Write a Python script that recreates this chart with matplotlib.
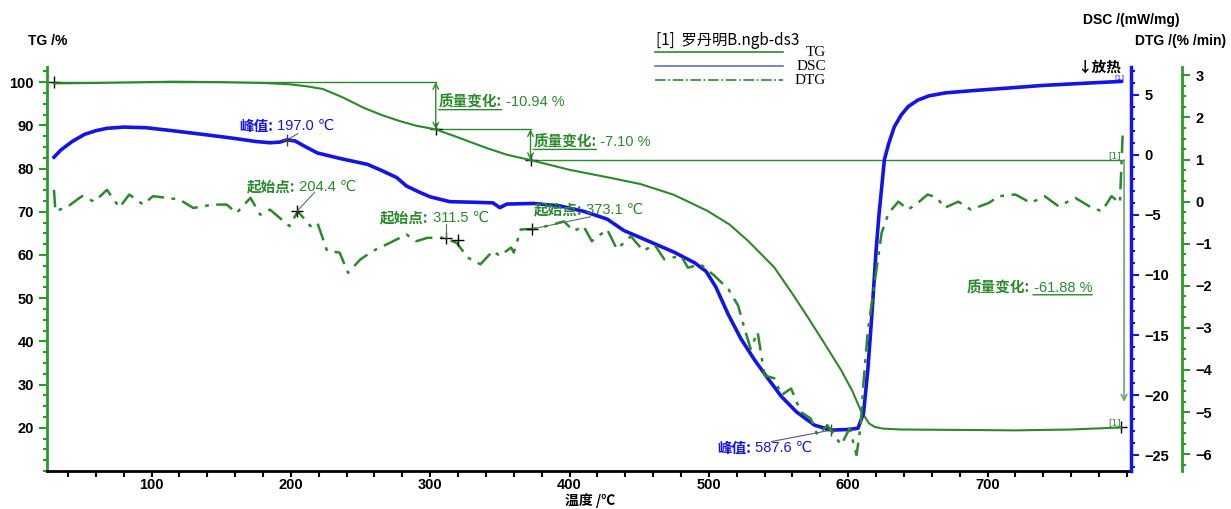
import matplotlib
matplotlib.use('Agg')
import matplotlib.pyplot as plt
from matplotlib.ticker import MultipleLocator

# ---- data ----
tg_temp = [30, 60, 115, 150, 180, 199, 212, 223, 237, 252, 265, 278, 290, 304, 320, 340,
           355, 372, 400, 430, 451, 475, 499, 515, 528, 547, 560, 571, 583, 595, 603,
           609, 615, 619, 625, 638, 680, 720, 760, 796]
tg_val = [99.7, 99.8, 100.1, 100.0, 99.8, 99.5, 99.0, 98.4, 96.5, 94.1, 92.4, 91.0, 89.9,
          89.06, 87.2, 84.8, 83.2, 81.96, 79.7, 77.8, 76.4, 73.9, 70.2, 67.0, 63.3, 57.1,
          51.0, 45.6, 39.5, 33.3, 28.5, 24.0, 21.0, 20.2, 19.8, 19.6, 19.5, 19.4, 19.6, 20.08]

dsc_temp = [30, 35, 43, 52, 60, 68, 80, 96, 115, 140, 160, 175, 185, 192, 197, 203, 210,
            219, 235, 255, 265, 276, 283, 292, 300, 314, 331, 345, 350, 355, 374, 393, 410,
            427, 439, 457, 475, 490, 498, 505, 514, 523, 533, 543, 552, 563, 576, 588, 600,
            607, 611, 614, 617, 620, 622, 626, 629, 633, 638, 643, 650, 658, 670, 691, 715,
            739, 770, 796]
dsc_val = [-0.2, 0.4, 1.1, 1.7, 2.0, 2.2, 2.3, 2.25, 2.0, 1.65, 1.35, 1.1, 1.0, 1.05, 1.23,
           1.15, 0.7, 0.15, -0.3, -0.8, -1.3, -1.9, -2.6, -3.1, -3.5, -3.9, -3.95, -4.0, -4.4,
           -4.1, -4.05, -4.25, -4.7, -5.35, -6.3, -7.2, -8.1, -9.0, -9.7, -11.0, -13.3, -15.3,
           -17.1, -18.7, -20.1, -21.4, -22.5, -22.9, -22.85, -22.75, -21.5, -18.0, -13.3, -8.0,
           -5.1, -0.4, 0.9, 2.3, 3.3, 4.0, 4.55, 4.9, 5.15, 5.35, 5.55, 5.76, 5.95, 6.1]

dtg_temp = [30, 31, 33, 39, 50, 59, 68, 77, 84, 94, 101, 111, 120, 130, 144, 154, 161, 171,
            178, 185, 199, 205, 214, 219, 226, 235, 241, 250, 259, 271, 283, 290, 298, 310,
            319, 327, 336, 345, 350, 358, 360, 365, 374, 379, 396, 403, 410, 416, 427, 434,
            444, 453, 461, 468, 480, 485, 494, 504, 514, 521, 525, 530, 535, 540, 547, 552,
            559, 566, 573, 578, 585, 590, 595, 601, 606, 609, 611, 614, 619, 624, 629, 636,
            643, 650, 657, 664, 669, 679, 688, 701, 708, 720, 731, 741, 751, 763, 773, 782,
            789, 795, 797]
dtg_val = [0.28, -0.23, -0.2, -0.14, 0.13, 0.0, 0.28, -0.14, 0.17, -0.07, 0.13, 0.09, 0.05,
           -0.15, -0.07, -0.07, -0.27, 0.09, -0.31, -0.19, -0.58, -0.23, -0.58, -0.5, -1.17,
           -1.21, -1.69, -1.37, -1.17, -0.98, -0.78, -0.94, -0.86, -0.86, -0.98, -1.33, -1.49,
           -1.17, -1.29, -1.09, -1.21, -0.66, -0.65, -0.62, -0.47, -0.7, -0.58, -0.94, -0.66,
           -1.13, -0.82, -1.17, -1.02, -1.37, -1.29, -1.57, -1.49, -1.76, -2.08, -2.47, -2.95,
           -3.5, -3.1, -4.13, -4.2, -4.6, -4.44, -5.0, -5.15, -5.55, -5.31, -5.55, -5.78, -5.39,
           -6.02, -5.31, -4.29, -3.1, -1.92, -0.74, -0.27, 0.0, -0.19, -0.03, 0.17, 0.09,
           -0.15, 0.0, -0.19, -0.03, 0.13, 0.17, -0.03, 0.13, -0.11, 0.09, -0.11, -0.23, 0.13,
           -0.03, 1.6]

# (temperature, value) of the marked points
tg_steps = [(30, 100.0), (304, 89.06), (372, 81.96), (796, 20.08)]
tg_changes = ['-10.94 %', '-7.10 %', '-61.88 %']
dsc_peaks = [(197.0, 1.23), (587.6, -22.9)]
dtg_onsets = [(204.4, -0.23), (311.5, -0.86), (373.1, -0.65)]

GREEN = '#2a8a2a'
BLUE = '#1414e6'
CJK = ['Noto Sans CJK SC', 'DejaVu Sans']
NUM = ['Liberation Sans', 'DejaVu Sans']


def label(a, x, y, head, value, color, underline=False, uline_value=False):
    # bold Chinese head followed by the number, like the instrument software draws it
    t1 = a.text(x, y, head, color=color, fontsize=10.5, fontweight='bold', family=CJK,
                va='center', ha='left')
    t2 = a.annotate(' ' + value, xy=(1, 0.5), xycoords=t1, va='center', ha='left',
                    color=color, fontsize=10.5, family=NUM)
    if underline:
        a.annotate('', xy=(1, 0.02), xycoords=t1, xytext=(0, 0.02), textcoords=t1,
                   arrowprops=dict(arrowstyle='-', color=color, lw=1, shrinkA=0, shrinkB=0))
    if uline_value:
        a.annotate('', xy=(1.0, 0.0), xycoords=t2, xytext=(0.05, 0.0), textcoords=t2,
                   arrowprops=dict(arrowstyle='-', color=color, lw=1, shrinkA=0, shrinkB=0))
    return t1, t2


fig = plt.figure(figsize=(12.31, 5.09), dpi=100)
ax = fig.add_axes([0.0382, 0.0747, 0.8806, 0.7937])
ax2 = ax.twinx()
ax3 = ax.twinx()
ax3.spines['right'].set_position(('outward', 36.7))

# TG axis
ax.set_xlim(25, 803)
ax.set_ylim(10, 103.5)
ax.set_yticks(range(20, 101, 10))
ax.yaxis.set_minor_locator(MultipleLocator(2.5))
ax.set_xticks(range(100, 701, 100))
ax.xaxis.set_minor_locator(MultipleLocator(20))
for s in ['top', 'right']:
    ax.spines[s].set_visible(False)
ax.spines['left'].set_color('#2a9a2a')
ax.spines['left'].set_linewidth(2)
ax.spines['bottom'].set_linewidth(2)
ax.tick_params(axis='y', which='both', colors='#2a9a2a', labelcolor='black', width=1.5)
ax.tick_params(axis='y', which='major', length=6)
ax.tick_params(axis='y', which='minor', length=3)
ax.tick_params(axis='x', which='both', width=1.5, length=4, pad=1)

# DSC axis
ax2.set_ylim(-26.3, 7.3)
ax2.set_yticks(range(-25, 6, 5))
ax2.yaxis.set_minor_locator(MultipleLocator(1))
for s in ['top', 'left', 'bottom']:
    ax2.spines[s].set_visible(False)
ax2.spines['right'].set_color(BLUE)
ax2.spines['right'].set_linewidth(2.5)
ax2.tick_params(axis='y', which='both', colors=BLUE, labelcolor='black', width=1.5)
ax2.tick_params(which='major', length=6)
ax2.tick_params(which='minor', length=3)

# DTG axis
ax3.set_ylim(-6.4, 3.2)
ax3.set_yticks(range(-6, 4))
ax3.yaxis.set_minor_locator(MultipleLocator(0.25))
for s in ['top', 'left', 'bottom']:
    ax3.spines[s].set_visible(False)
ax3.spines['right'].set_color('#2a9a2a')
ax3.spines['right'].set_linewidth(2)
ax3.tick_params(axis='y', which='both', colors='#2a9a2a', labelcolor='black', width=1.5)
ax3.tick_params(which='major', length=6)
ax3.tick_params(which='minor', length=3)

for a in (ax, ax2, ax3):
    for lab in a.get_xticklabels() + a.get_yticklabels():
        lab.set_fontfamily('Liberation Sans')
        lab.set_fontweight('bold')
        lab.set_fontsize(10.5)

# curves
ax.plot(tg_temp, tg_val, color=GREEN, lw=1.5, zorder=3)
ax2.plot(dsc_temp, dsc_val, color=BLUE, lw=2.6, zorder=3)
ax3.plot(dtg_temp, dtg_val, color=GREEN, lw=1.8, dashes=(7, 3, 1.5, 3))

# TG step annotations
(t0, v0), (t1, v1), (t2, v2), (t3, v3) = tg_steps
ax.plot([t0, t1], [v0, v0], color=GREEN, lw=1)
ax.plot([t1, t2], [v1, v1], color=GREEN, lw=1)
ax.plot([t2, 798], [v2, v2], color=GREEN, lw=1)
arrow = dict(arrowstyle='<->', color=GREEN, lw=1, shrinkA=0, shrinkB=0)
ax.annotate('', xy=(t1, v1), xytext=(t1, v0), arrowprops=arrow)
ax.annotate('', xy=(t2, v2), xytext=(t2, v1), arrowprops=arrow)
ax.annotate('', xy=(798, 26), xytext=(798, v2),
            arrowprops=dict(arrowstyle='->', color='#6aa86a', lw=1.2, shrinkA=0, shrinkB=0))
ax.plot([t[0] for t in tg_steps], [t[1] for t in tg_steps], '+', color='black', ms=8, mew=1)

label(ax, 306, 95.4, '质量变化:', tg_changes[0], GREEN, underline=True)
label(ax, 374, 86.2, '质量变化:', tg_changes[1], GREEN, underline=True)
label(ax, 685, 52.4, '质量变化:', tg_changes[2], GREEN, uline_value=True)
ax.text(796, 83.1, '[1]', color=GREEN, fontsize=6.5, ha='right', va='center')
ax.text(796, 21.2, '[1]', color=GREEN, fontsize=6.5, ha='right', va='center')

# DSC peaks
(p1t, p1v), (p2t, p2v) = dsc_peaks
ax2.plot([p1t, p2t], [p1v, p2v], '+', color='#444444', ms=8, mew=1, zorder=4)
ax2.plot([p1t, 205], [p1v, 1.75], color='#555588', lw=0.8)
label(ax2, 163, 2.4, '峰值:', f'{p1t:.1f} ℃', BLUE)
ax2.plot([545, p2t], [-23.85, p2v], color='#555588', lw=0.8)
label(ax2, 506, -24.4, '峰值:', f'{p2t:.1f} ℃', BLUE)
ax2.text(796, 7.3, '↓放热', color='black', fontsize=10.5, fontweight='bold',
         family=CJK, ha='right', va='center')
ax2.text(798, 6.45, '[1]', color=BLUE, fontsize=5, ha='right', va='center')

# DTG onsets
(o1t, o1v), (o2t, o2v), (o3t, o3v) = dtg_onsets
ax3.plot([o1t, o2t, 320, o3t], [o1v, o2v, -0.9, o3v], '+', color='black', ms=8, mew=1)
ax3.plot([o1t, 217], [o1v, 0.22], color='#557755', lw=0.8)
label(ax3, 168, 0.35, '起始点:', f'{o1t:.1f} ℃', GREEN)
ax3.plot([o2t, o2t], [o2v, -0.52], color='#557755', lw=0.8)
label(ax3, 264, -0.38, '起始点:', f'{o2t:.1f} ℃', GREEN)
ax3.plot([o3t, 415], [o3v, -0.36], color='#557755', lw=0.8)
label(ax3, 374, -0.19, '起始点:', f'{o3t:.1f} ℃', GREEN)

# axis titles
lab = dict(fontsize=10, fontweight='bold', family=['Liberation Sans'])
fig.text(0.023, 0.919, 'TG /%', ha='left', va='center', **lab)
fig.text(0.9586, 0.961, 'DSC /(mW/mg)', ha='right', va='center', **lab)
fig.text(0.996, 0.919, 'DTG /(% /min)', ha='right', va='center', **lab)
fig.text(0.479, 0.017, '温度 /℃', ha='center', va='center', fontsize=10,
         fontweight='bold', family=CJK)

# legend drawn at the top
fig.text(0.533, 0.921, '[1]  罗丹明B.ngb-ds3', ha='left', va='center', fontsize=11,
         family=['Noto Sans CJK SC', 'DejaVu Sans'])
leg_items = [('TG', GREEN, '-'), ('DSC', '#6a6ad0', '-'), ('DTG', GREEN, '-.')]
for i, (name, col, ls) in enumerate(leg_items):
    y = 1 - (52 + 14 * i) / 509
    fig.add_artist(plt.Line2D([655 / 1231, 783 / 1231], [y, y], color=col, lw=1.2, ls=ls,
                              transform=fig.transFigure))
    fig.text(826 / 1231, y, name, ha='right', va='center', fontsize=11,
             family=['Liberation Serif'])

fig.savefig('out.png', dpi=100)
